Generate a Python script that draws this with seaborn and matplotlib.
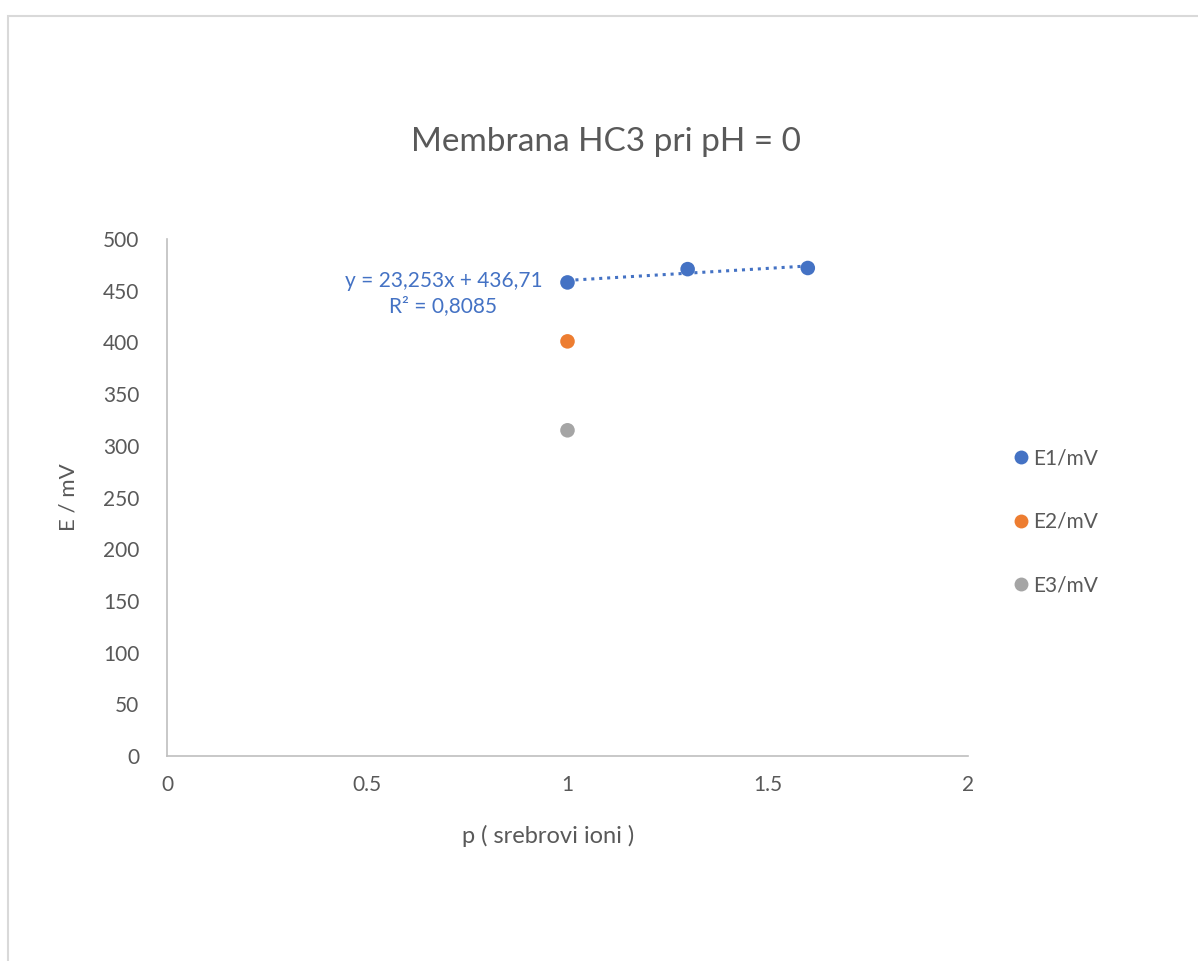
import numpy as np
import pandas as pd
import matplotlib.pyplot as plt
import seaborn as sns
from matplotlib.patches import Rectangle

# data
p_e1 = [1.0, 1.3, 1.6]
e1 = [458.003, 470.859, 471.955]
p_e2 = [1.0]
e2 = [401]
p_e3 = [1.0]
e3 = [315]
series_names = ['E1/mV', 'E2/mV', 'E3/mV']
colors = ['#4472c4', '#ed7d31', '#a5a5a5']

df = pd.concat([
    pd.DataFrame({'p': p_e1, 'E': e1, 'serie': series_names[0]}),
    pd.DataFrame({'p': p_e2, 'E': e2, 'serie': series_names[1]}),
    pd.DataFrame({'p': p_e3, 'E': e3, 'serie': series_names[2]}),
])

sns.set_style('white')
plt.rcParams['font.family'] = ['Lato', 'DejaVu Sans']
txt = '#595959'

fig = plt.figure(figsize=(11.98, 9.61), dpi=100)
ax = fig.add_axes([0.1394, 0.2133, 0.6686, 0.538])

# chart area border
fig.patches.append(Rectangle((8 / 1198, -0.1), 1.2, 1 - 16 / 961 + 0.1,
                             transform=fig.transFigure, fill=False,
                             edgecolor='#d9d9d9', linewidth=1.5))

sns.scatterplot(data=df, x='p', y='E', hue='serie', palette=colors,
                s=110, edgecolor='none', ax=ax, legend=False, zorder=3)

# linear trendline for E1
slope, intercept = np.polyfit(p_e1, e1, 1)
pred = np.polyval([slope, intercept], p_e1)
r2 = 1 - np.sum((np.array(e1) - pred) ** 2) / np.sum((np.array(e1) - np.mean(e1)) ** 2)
xs = np.array([min(p_e1), max(p_e1)])
ax.plot(xs, slope * xs + intercept, color=colors[0], linestyle=(0, (1, 1.6)),
        linewidth=2.2, zorder=2)
eq = f'y = {slope:.3f}x + {intercept:.2f}'.replace('.', ',')
ax.text(0.937, 447, eq + '\n' + f'R² = {r2:.4f}'.replace('.', ','),
        color=colors[0], fontsize=15, ha='right', va='center',
        multialignment='center', linespacing=1.3)

ax.set_xlim(0, 2)
ax.set_ylim(0, 500)
ax.set_xticks([0, 0.5, 1, 1.5, 2])
ax.set_xticklabels(['0', '0.5', '1', '1.5', '2'])
ax.set_yticks(range(0, 501, 50))
ax.tick_params(axis='x', length=0, labelsize=15, labelcolor=txt, pad=14)
ax.tick_params(axis='y', length=0, labelsize=15, labelcolor=txt, pad=20)
for s in ['top', 'right']:
    ax.spines[s].set_visible(False)
for s in ['left', 'bottom']:
    ax.spines[s].set_color('#bfbfbf')
    ax.spines[s].set_linewidth(1.2)

fig.text(0.506, 1 - 142 / 961, 'Membrana HC3 pri pH = 0', fontsize=24,
         color=txt, ha='center', va='center')
ax.set_xlabel('p ( srebrovi ioni )', fontsize=17, color=txt)
ax.xaxis.set_label_coords(0.476, -0.133)
ax.set_ylabel('E / mV', fontsize=16, color=txt)
ax.yaxis.set_label_coords(-0.11, 0.5)

handles = [plt.Line2D([], [], marker='o', linestyle='none', markersize=10,
                      markerfacecolor=c, markeredgecolor='none') for c in colors]
fig.legend(handles, series_names, loc='center left', bbox_to_anchor=(0.826, 0.457),
           frameon=False, fontsize=15, labelcolor=txt, handletextpad=0.0,
           labelspacing=2.1, handlelength=1.2)

fig.savefig('out.png', dpi=100)
